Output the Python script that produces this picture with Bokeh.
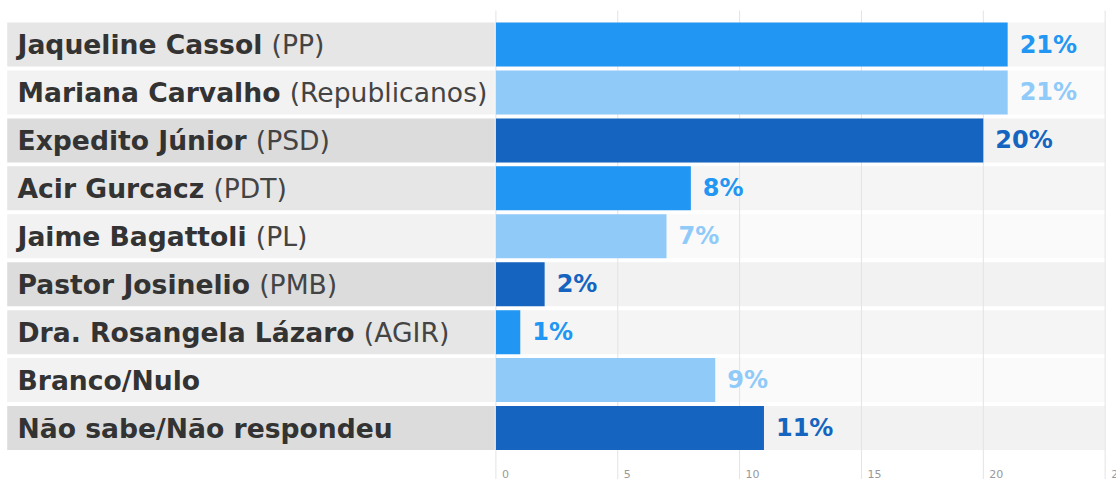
import glob
from bokeh.plotting import figure
from bokeh.models import Range1d, ColumnDataSource
from bokeh.embed import file_html
from bokeh.resources import INLINE
from bokeh.core.properties import value

# ---------------- data ----------------
names = ["Jaqueline Cassol", "Mariana Carvalho", "Expedito Júnior", "Acir Gurcacz",
         "Jaime Bagattoli", "Pastor Josinelio", "Dra. Rosangela Lázaro",
         "Branco/Nulo", "Não sabe/Não respondeu"]
parties = ["(PP)", "(Republicanos)", "(PSD)", "(PDT)", "(PL)", "(PMB)", "(AGIR)", "", ""]
values = [21, 21, 20, 8, 7, 2, 1, 9, 11]
value_labels = ["21%", "21%", "20%", "8%", "7%", "2%", "1%", "9%", "11%"]
tick_values = [0, 5, 10, 15, 20, 25]
tick_labels = ["0", "5", "10", "15", "20", "25"]

# ---------------- style ----------------
bar_colors = ["#2196f3", "#90caf9", "#1565c0"]
label_bg = ["#e6e6e6", "#f2f2f2", "#dcdcdc"]
plot_bg = ["#f5f5f5", "#fafafa", "#f2f2f2"]
FONT = "DejaVu Sans"
LABEL_SIZE = 26.6
VALUE_SIZE = 24

W, H = 1116, 479
X0_PX = 495.4          # pixel of value 0
PX_PER_UNIT = 24.37
ROW0_PX = 44.0         # pixel center of first row
ROW_PITCH = 47.94
BAND_H = 0.918


def px_to_x(px):
    return (px - X0_PX) / PX_PER_UNIT


def px_to_y(px):
    return (px - ROW0_PX) / ROW_PITCH


# ---- text measurement for bold + regular composition ----
def make_measurer(bold):
    pattern = "DejaVuSans-Bold.ttf" if bold else "DejaVuSans.ttf"
    try:
        from PIL import ImageFont
        paths = glob.glob("/usr/share/fonts/**/" + pattern, recursive=True) + \
            glob.glob("/usr/local/share/fonts/**/" + pattern, recursive=True)
        f = ImageFont.truetype(paths[0], LABEL_SIZE)
        return lambda s: f.getlength(s)
    except Exception:
        k = 0.68 if bold else 0.6
        return lambda s: k * LABEL_SIZE * len(s)


measure_bold = make_measurer(True)

n = len(names)
ys = list(range(n))
cyc = [i % 3 for i in range(n)]

src = ColumnDataSource(dict(
    y=ys,
    name=names,
    party=parties,
    val=values,
    vlab=value_labels,
    bar_color=[bar_colors[c] for c in cyc],
    lab_bg=[label_bg[c] for c in cyc],
    plot_bg=[plot_bg[c] for c in cyc],
    party_off=[measure_bold(nm + " ") for nm in names],
    zero=[0] * n,
))

x_start = px_to_x(0)
x_end = px_to_x(W)
y_top = px_to_y(0)
y_bot = px_to_y(H)

p = figure(width=W, height=H, output_backend="svg", toolbar_location=None,
           x_range=Range1d(x_start, x_end), y_range=Range1d(y_bot, y_top),
           min_border=0, min_border_left=0, min_border_right=0,
           min_border_top=0, min_border_bottom=0)
p.axis.visible = False
p.grid.visible = False
p.outline_line_color = None
p.background_fill_color = "white"
p.border_fill_color = "white"

label_left = px_to_x(6.7)
label_right = px_to_x(494.3)
plot_right = px_to_x(1104.3)

# label bands
p.hbar(y="y", left=label_left, right=label_right, height=BAND_H, source=src,
       fill_color="lab_bg", line_color=None)
# plot bands
p.hbar(y="y", left=0, right=plot_right, height=BAND_H, source=src,
       fill_color="plot_bg", line_color=None)

# grid lines
p.segment(x0=tick_values, x1=tick_values, y0=[px_to_y(10)] * len(tick_values),
          y1=[y_bot] * len(tick_values), line_color="#e3e3e3", line_width=1)

# bars
p.hbar(y="y", left="zero", right="val", height=BAND_H, source=src,
       fill_color="bar_color", line_color=None)

# names (bold) and parties (regular)
lx = px_to_x(17)
p.text(x=lx, y="y", text="name", source=src, text_font=value(FONT),
       text_font_style="bold", text_font_size=f"{LABEL_SIZE}px",
       text_color="#333333", text_baseline="middle", text_align="left")
p.text(x=lx, y="y", text="party", source=src, x_offset="party_off",
       text_font=value(FONT), text_font_style="normal",
       text_font_size=f"{LABEL_SIZE}px", text_color="#444444",
       text_baseline="middle", text_align="left")

# value labels
p.text(x="val", y="y", text="vlab", source=src, x_offset=12,
       text_font=value(FONT), text_font_style="bold",
       text_font_size=f"{VALUE_SIZE}px", text_color="bar_color",
       text_baseline="middle", text_align="left")

# tick labels
p.text(x=tick_values, y=[px_to_y(469)] * len(tick_values), text=tick_labels,
       x_offset=6, text_font=value(FONT), text_font_size="11px",
       text_color="#999999", text_baseline="top", text_align="left")

open("out.html", "w").write(file_html(p, INLINE))
